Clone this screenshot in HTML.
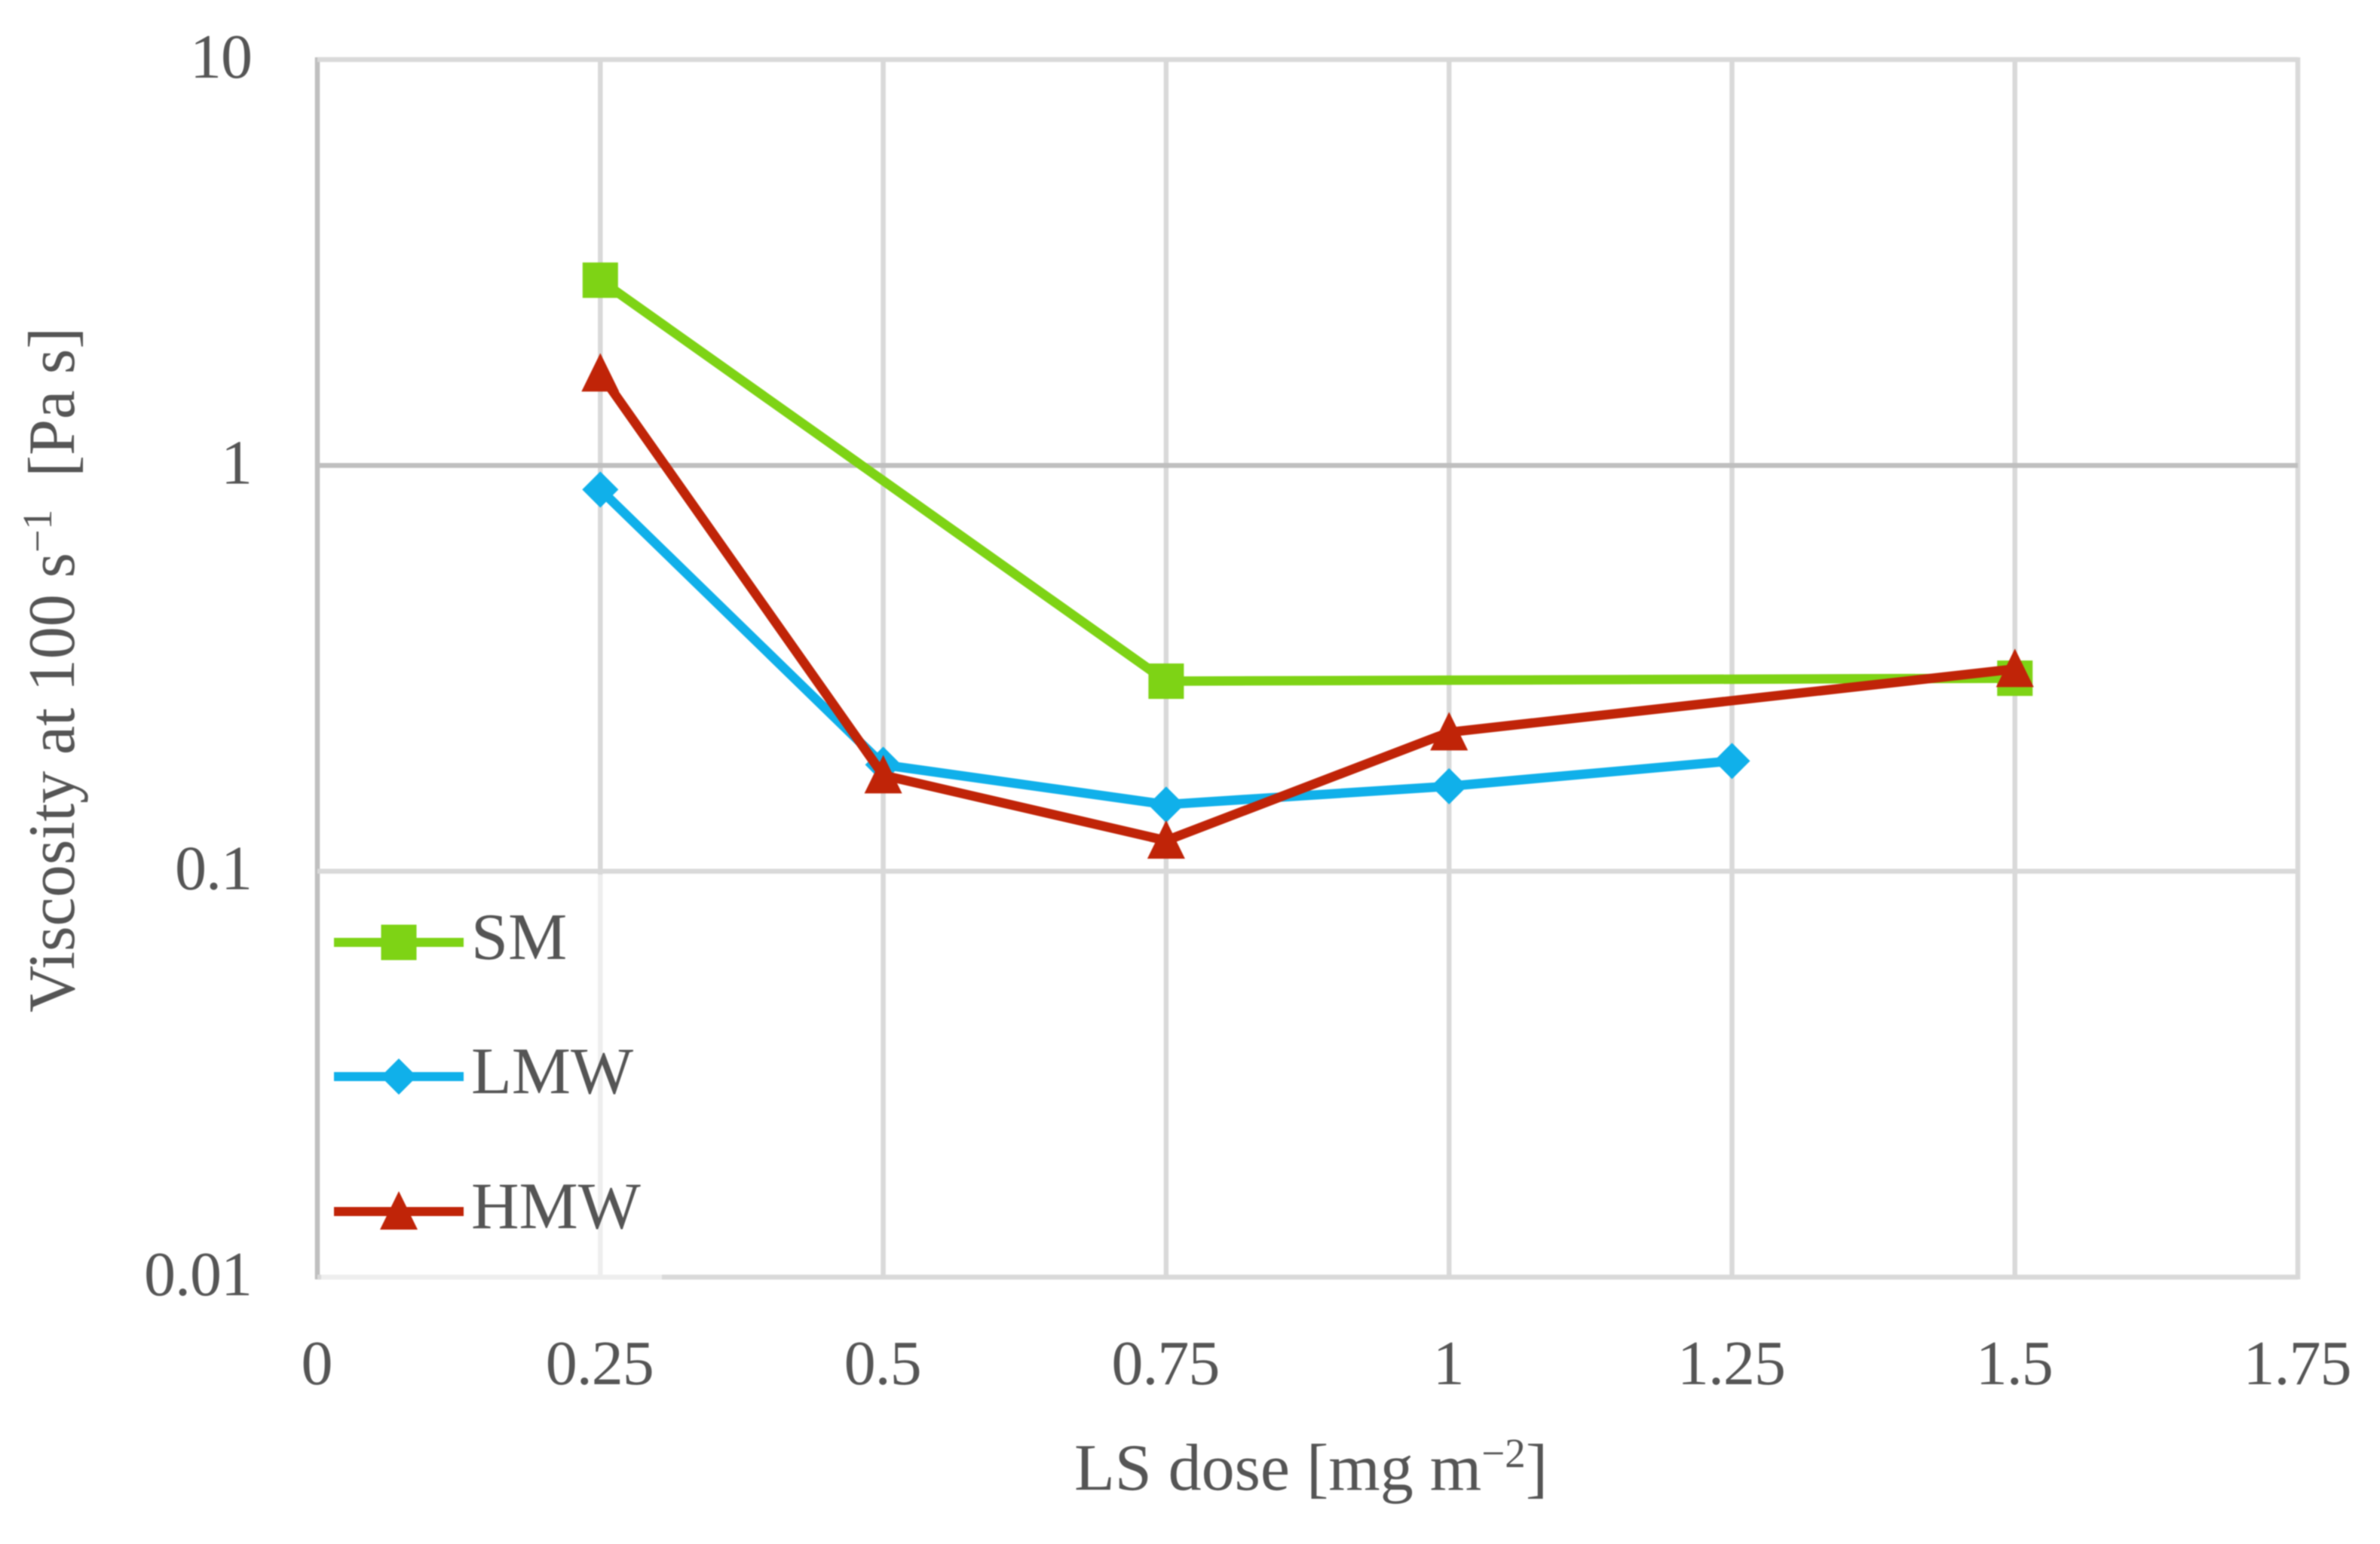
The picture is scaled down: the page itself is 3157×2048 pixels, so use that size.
<!DOCTYPE html>
<html lang="en">
<head>
<meta charset="utf-8">
<title>Viscosity at 100 s-1 vs LS dose</title>
<style>
html,body{margin:0;padding:0;background:#fff;}
svg{display:block;filter:blur(0.9px);}
text{font-family:"Liberation Serif",serif;fill:#555555;}
</style>
</head>
<body>
<svg id="chart" xmlns="http://www.w3.org/2000/svg" width="3157" height="2048" viewBox="0 0 3157 2048">
  <rect x="0" y="0" width="3157" height="2048" fill="#fff"/>
  <g id="grid"></g>
  <g id="ticks"></g>
  <g id="legend-veil">
    <rect x="426" y="1160" width="452" height="540" fill="#fff" fill-opacity="0.55"/>
  </g>
  <g id="series"></g>
  <g id="legend"></g>
  <text x="1425" y="1976" font-size="88" textLength="628" lengthAdjust="spacingAndGlyphs">LS dose [mg m<tspan font-size="55" dy="-30">−2</tspan><tspan dy="30">]</tspan></text>
  <text transform="translate(98,1343) rotate(-90)" x="0" y="0" font-size="88" textLength="909" lengthAdjust="spacingAndGlyphs">Viscosity at 100 s<tspan font-size="55" dy="-30">−1</tspan><tspan dy="30">&#160;&#160;[Pa s]</tspan></text>
</svg>
<script>
var xTicks = [0, 0.25, 0.5, 0.75, 1, 1.25, 1.5, 1.75];
var xTickLabels = ["0", "0.25", "0.5", "0.75", "1", "1.25", "1.5", "1.75"];
var yTicks = [10, 1, 0.1, 0.01];
var yTickLabels = ["10", "1", "0.1", "0.01"];

var smX = [0.25, 0.75, 1.5];
var smY = [2.86, 0.294, 0.299];
var lmwX = [0.25, 0.5, 0.75, 1, 1.25];
var lmwY = [0.872, 0.183, 0.146, 0.162, 0.187];
var hmwX = [0.25, 0.5, 0.75, 1, 1.5];
var hmwY = [1.685, 0.1724, 0.119, 0.22, 0.315];
var legendLabels = ["SM", "LMW", "HMW"];

var NS = "http://www.w3.org/2000/svg";
var plotLeft = 421, plotRight = 3048, plotTop = 79, plotBottom = 1694;
var GREEN = "#7ed315", BLUE = "#10b0ea", RED = "#c02408";

function xPos(v) { return plotLeft + (v - 0) / 1.75 * (plotRight - plotLeft); }
function yPos(v) { return plotTop + (1 - Math.log10(v)) / 3 * (plotBottom - plotTop); }

function mk(tag, attrs, parent) {
  var el = document.createElementNS(NS, tag);
  for (var k in attrs) { el.setAttribute(k, attrs[k]); }
  parent.appendChild(el);
  return el;
}

var grid = document.getElementById("grid");
var ticks = document.getElementById("ticks");

xTicks.forEach(function (t, i) {
  var x = xPos(t);
  var isLeft = i === 0;
  var line = mk("line", {x1: x, x2: x, y1: plotTop - 3, y2: plotBottom + 3, stroke: isLeft ? "#bfbfbf" : "#d9d9d9", "stroke-width": 6.5}, grid);
  
  
  var label = mk("text", {x: x - 1, y: 1836, "font-size": 84, "text-anchor": "middle", "letter-spacing": "-1"}, ticks);
  label.textContent = xTickLabels[i];
  
  
});

yTicks.forEach(function (t, i) {
  var y = yPos(t);
  var line = mk("line", {x1: plotLeft, x2: plotRight, y1: y, y2: y, stroke: t === 1 ? "#bfbfbf" : "#d9d9d9", "stroke-width": 6.5}, grid);
  
  
  var label = mk("text", {x: 334, y: y + 24, "font-size": 84, "text-anchor": "end", "letter-spacing": "-1"}, ticks);
  label.textContent = yTickLabels[i];
  
  
});

function marker(kind, x, y, color, parent, diamondHalfWidth) {
  var el;
  if (kind === "square") {
    el = mk("rect", {x: x - 23.5, y: y - 23.5, width: 47, height: 47, fill: color}, parent);
  } else if (kind === "diamond") {
    var h = diamondHalfWidth || 24;
    el = mk("polygon", {points: [x - h, y, x, y - 24, x + h, y, x, y + 24].join(" "), fill: color}, parent);
  } else {
    el = mk("polygon", {points: [x, y - 27, x + 25, y + 24, x - 25, y + 24].join(" "), fill: color}, parent);
  }
  return el;
}

var seriesLayer = document.getElementById("series");

function drawSeries(name, xs, ys, color, kind) {
  var g = mk("g", {}, seriesLayer);
  
  
  var pts = xs.map(function (x, i) { return xPos(x) + "," + yPos(ys[i]); }).join(" ");
  var line = mk("polyline", {points: pts, fill: "none", stroke: color, "stroke-width": 12.5, "stroke-linejoin": "round"}, g);
  
  
  xs.forEach(function (x, i) {
    var m = marker(kind, xPos(x), yPos(ys[i]), color, g);
    
    
  });
}

drawSeries("sm", smX, smY, GREEN, "square");
drawSeries("lmw", lmwX, lmwY, BLUE, "diamond");
drawSeries("hmw", hmwX, hmwY, RED, "triangle");

var legend = document.getElementById("legend");

function drawLegendEntry(i, y, color, kind) {
  var g = mk("g", {}, legend);
  
  
  mk("line", {x1: 443, x2: 615, y1: y, y2: y, stroke: color, "stroke-width": 12}, g);
  marker(kind, 529, y, color, g, 24);
  var t = mk("text", {x: 625, y: y + 22, "font-size": 88}, g);
  t.textContent = legendLabels[i];
}

drawLegendEntry(0, 1250, GREEN, "square");
drawLegendEntry(1, 1428, BLUE, "diamond");
drawLegendEntry(2, 1607, RED, "triangle");
</script>
</body>
</html>
